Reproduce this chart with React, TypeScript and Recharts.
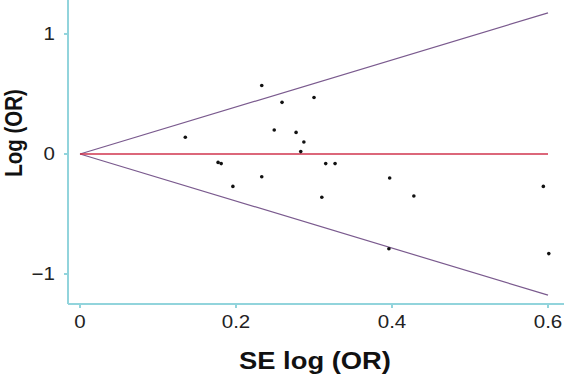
import { ScatterChart, Scatter, XAxis, YAxis, ReferenceLine } from 'recharts'

// standard errors and log odds ratios of the included studies
const seValues = [
  0.135, 0.177, 0.181, 0.196, 0.233, 0.233, 0.249, 0.259, 0.277, 0.283,
  0.287, 0.3, 0.31, 0.315, 0.327, 0.396, 0.397, 0.428, 0.594, 0.601,
]
const logOrValues = [
  0.14, -0.07, -0.08, -0.27, 0.57, -0.19, 0.2, 0.43, 0.18, 0.02,
  0.1, 0.47, -0.36, -0.08, -0.08, -0.79, -0.2, -0.35, -0.27, -0.83,
]

const xTicks = [0, 0.2, 0.4, 0.6]
const yTicks = [-1, 0, 1]
const funnelSe = [0, 0.6]
const pooledLogOr = 0
const z = 1.96

const points = seValues.map((se, i) => ({ se, lor: logOrValues[i] }))

const axisColor = '#92d4dc'
const font = '"Liberation Sans", Arial, sans-serif'
// the source image is slightly stretched horizontally
const stretch = 1.14

const Dot = (props: any) => {
  const { cx, cy } = props
  return <circle cx={cx} cy={cy} r={1.8} fill="#111" />
}

const fmt = (v: number) => (v < 0 ? `\u2212${Math.abs(v)}` : String(v))

const XTick = ({ x, y, payload }: any) => (
  <g transform={`translate(${x},${y}) scale(${stretch},1)`}>
    <text x={0} y={0} dy="0.71em" textAnchor="middle" fontFamily={font} fontSize={18} fill="#222">
      {fmt(payload.value)}
    </text>
  </g>
)

const YTick = ({ x, y, payload }: any) => (
  <g transform={`translate(${x},${y}) scale(${stretch},1)`}>
    <text x={0} y={0} dy="0.355em" textAnchor="end" fontFamily={font} fontSize={18} fill="#222">
      {fmt(payload.value)}
    </text>
  </g>
)

export default function App() {
  const [se0, se1] = funnelSe
  return (
    <div style={{ position: 'absolute', left: 0, top: 0, width: 564, height: 376, background: '#fff' }}>
      <ScatterChart width={564} height={376} margin={{ top: 0, right: 0, bottom: 0, left: 0 }}>
        <XAxis
          type="number"
          dataKey="se"
          domain={[-0.0154, 0.6205]}
          ticks={xTicks}
          height={72}
          stroke={axisColor}
          strokeWidth={2}
          tickSize={4}
          tickMargin={7}
          tick={<XTick />}
          allowDataOverflow
        />
        <YAxis
          type="number"
          dataKey="lor"
          domain={[-1.25, 1.283]}
          ticks={yTicks}
          width={68}
          stroke={axisColor}
          strokeWidth={2}
          tickSize={4}
          tickMargin={9}
          tick={<YTick />}
          allowDataOverflow
        />
        <ReferenceLine
          segment={[{ x: se0, y: pooledLogOr }, { x: se1, y: pooledLogOr + z * se1 }]}
          stroke="#7a5a8e"
          strokeWidth={1.2}
        />
        <ReferenceLine
          segment={[{ x: se0, y: pooledLogOr }, { x: se1, y: pooledLogOr - z * se1 }]}
          stroke="#7a5a8e"
          strokeWidth={1.2}
        />
        <ReferenceLine
          segment={[{ x: se0, y: pooledLogOr }, { x: se1, y: pooledLogOr }]}
          stroke="#d0344e"
          strokeWidth={1.3}
        />
        <Scatter data={points} shape={<Dot />} isAnimationActive={false} />
        <g transform={`translate(315,369) scale(${stretch},1)`}>
          <text x={0} y={0} textAnchor="middle" fontFamily={font} fontSize={24} fontWeight="bold" fill="#111">
            SE log (OR)
          </text>
        </g>
        <g transform={`translate(14,133) scale(${stretch},1) rotate(-90)`}>
          <text x={0} y={0} dy="0.36em" textAnchor="middle" fontFamily={font} fontSize={20.5} fontWeight="bold" fill="#111">
            Log (OR)
          </text>
        </g>
      </ScatterChart>
    </div>
  )
}
